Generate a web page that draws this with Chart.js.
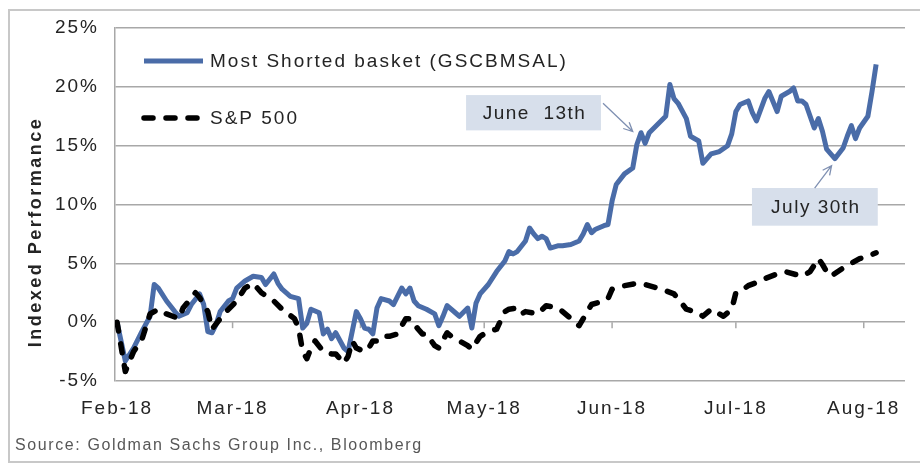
<!DOCTYPE html>
<html>
<head>
<meta charset="utf-8">
<title>Most Shorted basket vs S&amp;P 500</title>
<script src="https://cdn.jsdelivr.net/npm/chart.js@4.4.1/dist/chart.umd.min.js"></script>
<style>
  html, body { margin: 0; padding: 0; background: #fff; }
  #wrap { width: 920px; height: 468px; }
</style>
</head>
<body>
<div id="wrap"><canvas id="chart" width="920" height="468"></canvas></div>
<script>
// x values are days counted from 1 Feb 2018, y values are indexed performance in %
const START = Date.UTC(2018, 1, 1);

const gsDay = [0, 2, 4, 6, 8, 9, 10, 12, 14, 15, 17, 18, 20, 21, 22, 23, 24, 25, 27, 28, 29, 31, 33, 35, 36,
  38, 39, 40, 42, 44, 45, 46, 47, 49, 50, 51, 52, 53, 55, 56, 58, 59, 60, 61, 62, 63, 64, 66, 67, 69, 70,
  71, 72, 73, 75, 77, 78, 79, 80, 82, 83, 85, 86, 87, 88, 90, 92, 94, 95, 96, 97, 99, 100, 101, 102, 103,
  104, 105, 107, 108, 110, 112, 113, 114, 115, 116, 118, 119, 120, 121, 123, 125, 126, 127, 128, 129, 131,
  133, 134, 135, 136, 138, 139, 141, 142, 143, 144, 146, 148, 149, 150, 151, 153, 154, 155, 157, 158, 160,
  161, 163, 164, 165, 166, 167, 168, 169, 170, 171, 172, 173, 174, 176, 177, 178, 179, 180, 182, 183, 184];
const gsPct = [0.0, -3.3, -2.2, -0.8, 0.5, 3.2, 2.9, 1.8, 0.9, 0.5, 0.8, 1.5, 2.4, 1.5, -0.8, -0.9, -0.2, 0.9,
  1.8, 2.0, 2.9, 3.5, 3.9, 3.8, 3.2, 4.1, 3.3, 2.8, 2.2, 2.0, -0.5, -0.1, 1.1, 0.8, -1.0, -0.6, -1.4, -0.9,
  -2.2, -2.5, 0.9, 0.3, -0.5, -0.6, -1.0, 1.2, 2.0, 1.8, 1.5, 2.9, 2.4, 2.9, 1.8, 1.4, 1.1, 0.7, -0.3, 0.5,
  1.4, 0.8, 0.5, 1.2, -0.5, 1.6, 2.4, 3.2, 4.3, 5.2, 6.0, 5.8, 6.0, 6.9, 8.0, 7.5, 7.1, 7.3, 7.1, 6.3, 6.5,
  6.5, 6.6, 6.9, 7.5, 8.3, 7.6, 7.9, 8.2, 8.3, 10.3, 11.7, 12.6, 13.1, 15.1, 16.1, 15.2, 16.1, 16.8, 17.5,
  20.2, 19.0, 18.6, 17.3, 15.8, 15.4, 13.5, 13.9, 14.3, 14.5, 15.0, 16.0, 17.9, 18.5, 18.8, 17.8, 17.1,
  19.0, 19.6, 17.9, 19.2, 19.6, 19.9, 18.8, 18.8, 18.5, 17.5, 16.5, 17.3, 16.2, 14.7, 14.3, 13.9, 14.8,
  15.8, 16.7, 15.6, 16.5, 17.5, 19.6, 21.9];

const spDay = [0, 2, 4, 6, 8, 10, 12, 15, 16, 19, 20, 22, 23, 25, 27, 29, 31, 33, 35, 38, 40, 43, 44, 45, 46,
  47, 48, 50, 52, 53, 55, 56, 57, 58, 60, 61, 62, 63, 64, 66, 68, 69, 70, 71, 73, 74, 75, 77, 78, 80, 81,
  83, 85, 86, 88, 90, 92, 94, 95, 97, 98, 99, 102, 104, 107, 110, 112, 114, 115, 118, 119, 120, 123, 126,
  128, 132, 135, 136, 138, 141, 142, 144, 147, 149, 150, 151, 153, 156, 157, 160, 162, 166, 168, 170, 171,
  172, 173, 176, 178, 180, 182, 184];
const spPct = [0.0, -4.2, -2.5, -1.5, 0.7, 1.1, 0.7, 0.3, 1.2, 2.5, 2.1, 0.9, -0.6, 0.3, 1.1, 1.8, 2.9, 3.3,
  2.5, 1.8, 1.1, 0.3, -0.5, -2.5, -3.1, -2.2, -1.6, -2.5, -2.7, -2.7, -3.5, -2.9, -1.6, -2.2, -2.5, -2.2,
  -1.6, -1.6, -1.2, -1.2, -1.0, -0.3, 0.3, 0.3, -0.6, -1.0, -1.0, -2.0, -2.2, -0.9, -1.2, -1.6, -2.0, -2.3,
  -1.2, -0.8, -0.6, 0.9, 1.1, 1.2, 0.7, 0.9, 0.7, 1.4, 1.2, 0.3, -0.3, 0.9, 1.5, 1.8, 2.0, 2.8, 3.1, 3.3,
  3.2, 2.8, 2.4, 2.0, 1.1, 0.8, 0.5, 1.1, 0.5, 1.1, 2.5, 2.6, 3.1, 3.5, 3.7, 4.1, 4.3, 3.9, 4.3, 5.4, 4.9,
  4.3, 3.9, 4.6, 5.0, 5.4, 5.6, 5.9];

const monthStarts = ['2018-02-01', '2018-03-01', '2018-04-01', '2018-05-01', '2018-06-01', '2018-07-01', '2018-08-01'];
const monthLabels = ['Feb-18', 'Mar-18', 'Apr-18', 'May-18', 'Jun-18', 'Jul-18', 'Aug-18'];
const yTicks = [-5, 0, 5, 10, 15, 20, 25];

const monthDays = monthStarts.map(s => (Date.parse(s) - START) / 86400000);

// callouts, placed in data space: [day, %]
const notes = [
  { text: 'June  13th', box: [84.6, 117.3, 19.3, 16.3], from: [117.8, 18.6], to: [125.0, 16.2] },
  { text: 'July 30th', box: [153.9, 184.4, 11.4, 8.2], from: [169.1, 11.4], to: [173.2, 13.3] }
];

const FONT = "'Liberation Sans', Arial, sans-serif";
const TEXT = '#242424';
const GRID = '#a8a8a8';

const decor = {
  id: 'decor',
  beforeDraw(chart) {
    const ctx = chart.ctx;
    ctx.letterSpacing = '2px';
    ctx.save();
    ctx.strokeStyle = '#c8c8c8';
    ctx.lineWidth = 2;
    ctx.strokeRect(9, 10, 940, 452);
    ctx.restore();
  },
  beforeDatasetsDraw(chart) {
    const { ctx, scales: { x, y } } = chart;
    const y0 = y.getPixelForValue(0);
    ctx.save();
    ctx.strokeStyle = GRID;
    ctx.lineWidth = 1.5;
    monthDays.forEach(d => {
      const px = x.getPixelForValue(d);
      ctx.beginPath();
      ctx.moveTo(px, y0);
      ctx.lineTo(px, y0 + 6);
      ctx.stroke();
    });
    ctx.restore();
  },
  afterDatasetsDraw(chart) {
    const { ctx, chartArea, scales: { x, y } } = chart;
    ctx.save();

    // legend
    const rows = [61, 118];
    chart.data.datasets.forEach((ds, i) => {
      const ly = rows[i];
      ctx.save();
      ctx.strokeStyle = ds.borderColor;
      ctx.lineWidth = ds.borderWidth;
      ctx.lineCap = ds.borderCapStyle || 'butt';
      ctx.setLineDash(ds.borderDash || []);
      ctx.beginPath();
      ctx.moveTo(chartArea.left + 29, ly);
      ctx.lineTo(chartArea.left + 88, ly);
      ctx.stroke();
      ctx.restore();
      ctx.fillStyle = TEXT;
      ctx.font = '19px ' + FONT;
      ctx.textAlign = 'left';
      ctx.textBaseline = 'middle';
      ctx.letterSpacing = '2px';
      ctx.fillText(ds.label, chartArea.left + 95, ly + 1);
    });

    // callouts
    notes.forEach(n => {
      const x0 = x.getPixelForValue(n.box[0]), x1 = x.getPixelForValue(n.box[1]);
      const y0 = y.getPixelForValue(n.box[2]), y1 = y.getPixelForValue(n.box[3]);
      ctx.fillStyle = '#d7dfeb';
      ctx.fillRect(x0, y0, x1 - x0, y1 - y0);
      ctx.fillStyle = TEXT;
      ctx.font = '19px ' + FONT;
      ctx.textAlign = 'center';
      ctx.textBaseline = 'middle';
      ctx.letterSpacing = '1.5px';
      ctx.fillText(n.text, (x0 + x1) / 2 + 1, (y0 + y1) / 2 + 1);

      const ax = x.getPixelForValue(n.from[0]), ay = y.getPixelForValue(n.from[1]);
      const bx = x.getPixelForValue(n.to[0]), by = y.getPixelForValue(n.to[1]);
      const ang = Math.atan2(by - ay, bx - ax);
      ctx.strokeStyle = '#7f90b2';
      ctx.lineWidth = 1.3;
      ctx.beginPath();
      ctx.moveTo(ax, ay);
      ctx.lineTo(bx, by);
      ctx.moveTo(bx - 10 * Math.cos(ang - 0.45), by - 10 * Math.sin(ang - 0.45));
      ctx.lineTo(bx, by);
      ctx.lineTo(bx - 10 * Math.cos(ang + 0.45), by - 10 * Math.sin(ang + 0.45));
      ctx.stroke();
    });

    // y axis title
    ctx.save();
    ctx.translate(36, 232);
    ctx.rotate(-Math.PI / 2);
    ctx.fillStyle = TEXT;
    ctx.font = 'bold 18px ' + FONT;
    ctx.letterSpacing = '2.5px';
    ctx.textAlign = 'center';
    ctx.textBaseline = 'middle';
    ctx.fillText('Indexed Performance', 0, 0);
    ctx.restore();

    // source line
    ctx.fillStyle = '#575757';
    ctx.font = '16px ' + FONT;
    ctx.letterSpacing = '1.6px';
    ctx.textAlign = 'left';
    ctx.textBaseline = 'middle';
    ctx.fillText('Source: Goldman Sachs Group Inc., Bloomberg', 15, 446);

    ctx.restore();
  }
};

const ctx = document.getElementById('chart');

new Chart(ctx, {
  type: 'line',
  data: {
    datasets: [
      {
        label: 'Most Shorted basket (GSCBMSAL)',
        data: gsDay.map((d, i) => ({ x: d, y: gsPct[i] })),
        borderColor: '#4a6ca8',
        borderWidth: 5,
        borderJoinStyle: 'round',
        pointRadius: 0,
        tension: 0,
        order: 2
      },
      {
        label: 'S&P 500',
        data: spDay.map((d, i) => ({ x: d, y: spPct[i] })),
        borderColor: '#000000',
        borderWidth: 5.5,
        borderDash: [9, 13],
        borderCapStyle: 'round',
        borderJoinStyle: 'round',
        pointRadius: 0,
        tension: 0,
        order: 1
      }
    ]
  },
  options: {
    responsive: false,
    animation: false,
    events: [],
    layout: { padding: { left: 10, right: 15, top: 28, bottom: 0 } },
    plugins: {
      legend: { display: false },
      tooltip: { enabled: false }
    },
    scales: {
      x: {
        type: 'linear',
        min: -0.5,
        max: 191,
        afterBuildTicks: s => { s.ticks = monthDays.map(v => ({ value: v })); },
        afterFit: s => { s.height = 87; },
        ticks: {
          callback: (v, i) => monthLabels[i],
          autoSkip: false,
          maxRotation: 0,
          padding: 16,
          color: TEXT,
          font: { size: 19, family: FONT }
        },
        grid: { display: false, drawTicks: false },
        border: { display: false }
      },
      y: {
        min: -5,
        max: 25,
        afterBuildTicks: s => { s.ticks = yTicks.map(v => ({ value: v })); },
        afterFit: s => { s.width = 105; },
        ticks: {
          callback: v => v + '%',
          padding: 16,
          color: TEXT,
          font: { size: 19, family: FONT }
        },
        grid: { color: GRID, lineWidth: 1.5, drawTicks: false },
        border: { display: true, color: GRID, width: 1.5 }
      }
    }
  },
  plugins: [decor]
});
</script>
</body>
</html>
